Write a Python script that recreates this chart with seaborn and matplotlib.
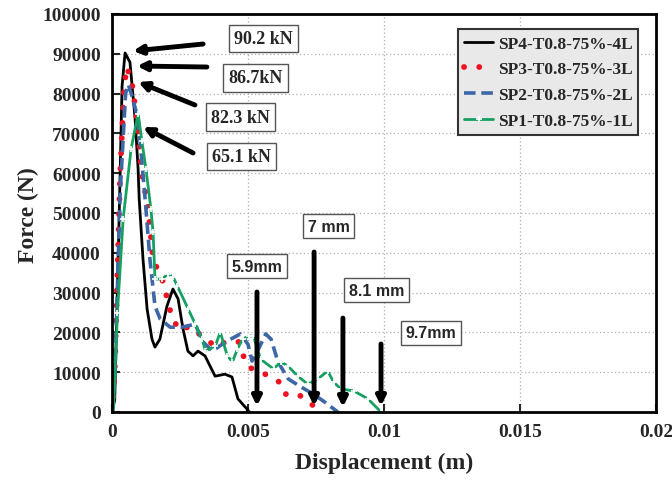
import matplotlib
matplotlib.use("Agg")
import matplotlib.pyplot as plt
import seaborn as sns
import pandas as pd

# ---------------- data ----------------
sp4_x = [0.0, 0.0001, 0.00025, 0.00037, 0.00048, 0.00066, 0.00085, 0.00096, 0.00100, 0.00114,
         0.00129, 0.00147, 0.00158, 0.00176, 0.00202, 0.00224, 0.00243, 0.00261, 0.00279, 0.00298,
         0.00316, 0.00342, 0.00379, 0.00415, 0.00441, 0.00463, 0.00489, 0.00500, 0.00497, 0.00507]
sp4_y = [0, 3000, 45000, 81900, 90200, 87900, 73600, 61000, 53500, 38400,
         25900, 18300, 16300, 18300, 26600, 30900, 28400, 20900, 15300, 14100,
         15300, 14100, 9000, 9500, 8800, 3300, 1300, 500, 200, 0]

sp3_x = [0.0, 0.0001, 0.0003, 0.00045, 0.00055, 0.00075, 0.00096, 0.00107, 0.00133, 0.00151,
         0.00188, 0.00210, 0.00225, 0.00255, 0.00284, 0.00336, 0.00384, 0.00421, 0.00465, 0.00483,
         0.00500, 0.00550, 0.00616, 0.00635, 0.00686, 0.00716, 0.00745]
sp3_y = [0, 10000, 60000, 82000, 86700, 81900, 71100, 61000, 51000, 38400,
         32700, 26400, 22900, 20400, 21600, 18800, 16300, 17800, 17600, 14100,
         11300, 10000, 7500, 4500, 4500, 2500, 1500]

sp2_x = [0.0, 0.0001, 0.0003, 0.0005, 0.0006, 0.00075, 0.00096, 0.0012, 0.0014, 0.00158,
         0.00177, 0.00214, 0.00258, 0.00306, 0.00332, 0.00369, 0.00417, 0.00472, 0.00500, 0.00515,
         0.00540, 0.00565, 0.00585, 0.00610, 0.00648, 0.00690, 0.00740, 0.00782, 0.00830]
sp2_y = [0, 8000, 55000, 80000, 82300, 79000, 73600, 55000, 38000, 26600,
         23400, 21300, 21300, 22100, 17800, 15300, 17600, 19600, 17000, 12800,
         16000, 19600, 18300, 12600, 8300, 6500, 4500, 2500, 0]

sp1_x = [0.00005, 0.0002, 0.00041, 0.0007, 0.00096, 0.00110, 0.00125, 0.00143, 0.00151, 0.00158,
         0.00184, 0.00206, 0.00225, 0.00240, 0.00280, 0.00306, 0.00332, 0.00343, 0.00380, 0.00398,
         0.00424, 0.00443, 0.00461, 0.00480, 0.00502, 0.00520, 0.00546, 0.00594, 0.00620, 0.00646,
         0.00683, 0.00720, 0.00757, 0.00793, 0.00815, 0.00841, 0.00889, 0.00941, 0.00989]
sp1_y = [0, 25000, 48500, 66000, 75000, 68000, 61000, 51000, 45200, 33400,
         33400, 34700, 33900, 31700, 25900, 22100, 18300, 15300, 16600, 20100,
         14100, 12600, 15800, 18300, 19100, 19100, 13300, 10800, 12600, 11600,
         9000, 7000, 8300, 10300, 7500, 5800, 5300, 3300, 0]

series_names = ["SP4-T0.8-75%-4L", "SP3-T0.8-75%-3L", "SP2-T0.8-75%-2L", "SP1-T0.8-75%-1L"]

peak_labels = ["90.2 kN", "86.7kN", "82.3 kN", "65.1 kN"]
disp_labels = ["5.9mm", "7 mm", "8.1 mm", "9.7mm"]

x_ticks = [0, 0.005, 0.01, 0.015, 0.02]
x_tick_labels = ["0", "0.005", "0.01", "0.015", "0.02"]
y_ticks = [0, 10000, 20000, 30000, 40000, 50000, 60000, 70000, 80000, 90000, 100000]
y_tick_labels = [str(v) for v in y_ticks]

# ---------------- style ----------------
sns.set_style("ticks")
plt.rcParams["font.family"] = ["Liberation Serif", "DejaVu Serif"]
plt.rcParams["font.weight"] = "bold"

fig = plt.figure(figsize=(6.72, 4.81), dpi=100)
ax = fig.add_axes([112 / 672, 1 - 413 / 481, (656 - 112) / 672, (413 - 15) / 481])

styles = [
    dict(color="black", lw=2.0, ls="-"),
    dict(color="#ee1122", lw=4.2, ls=(0, (0.01, 2.6)), dash_capstyle="round"),
    dict(color="#3d67a6", lw=2.6, ls=(0, (3.2, 1.6))),
    dict(color="#16a062", lw=2.0, ls="-", marker="+", markersize=4, markeredgewidth=1.2),
]
xs = [sp4_x, sp3_x, sp2_x, sp1_x]
ys = [sp4_y, sp3_y, sp2_y, sp1_y]
for name, x, y, st in zip(series_names, xs, ys, styles):
    df = pd.DataFrame({"Displacement": x, "Force": y})
    sns.lineplot(data=df, x="Displacement", y="Force", ax=ax, sort=False,
                 estimator=None, label=name, **st)

ax.set_xlim(0, 0.02)
ax.set_ylim(0, 100000)
ax.set_xticks(x_ticks)
ax.set_xticklabels(x_tick_labels, fontsize=14, fontweight="bold")
ax.set_yticks(y_ticks)
ax.set_yticklabels(y_tick_labels, fontsize=14, fontweight="bold")
ax.tick_params(direction="in", length=6, width=1.5, pad=8)
ax.grid(True, linestyle=(0, (1, 2)), color="#b0b0b0", lw=0.9)
for sp in ax.spines.values():
    sp.set_visible(True)
    sp.set_linewidth(2.0)
    sp.set_color("black")

ax.set_xlabel("Displacement (m)", fontsize=17, fontweight="bold")
ax.set_ylabel("Force (N)", fontsize=17, fontweight="bold")
ax.xaxis.set_label_coords(0.5, -0.1)
ax.yaxis.set_label_coords(-0.135, 0.497)

leg = ax.legend(loc="upper right", bbox_to_anchor=(0.974, 0.97), fontsize=12.5,
                frameon=True, fancybox=False, handlelength=1.7, handletextpad=0.25,
                borderpad=0.35, labelspacing=0.55, borderaxespad=0.2)
leg.get_frame().set_facecolor("#e9e9e9")
leg.get_frame().set_edgecolor("#333333")
leg.get_frame().set_linewidth(1.5)
leg.get_frame().set_alpha(1)
for t in leg.get_texts():
    t.set_fontweight("bold")

# ---------------- annotations ----------------
arrow_kw = dict(arrowstyle="-|>", lw=3.5, color="black", mutation_scale=13,
                shrinkA=0, shrinkB=0)
box_kw = dict(boxstyle="square,pad=0.3", fc="white", ec="#555555", lw=1.0)

peak_arrows = [((0.00335, 92460), (0.00077, 90700)),
               ((0.00349, 86680), (0.00092, 86930)),
               ((0.00305, 77140), (0.00096, 82910)),
               ((0.00298, 65080), (0.00114, 71600))]
peak_text_pos = [(0.00557, 93840), (0.00528, 83920), (0.00472, 74120), (0.00476, 64200)]
for (tail, head), lab, pos in zip(peak_arrows, peak_labels, peak_text_pos):
    ax.annotate("", xy=head, xytext=tail, arrowprops=arrow_kw)
    ax.text(pos[0], pos[1], lab, ha="center", va="center", fontsize=13,
            fontweight="bold", bbox=box_kw, zorder=5)

disp_arrows = [(0.00533, 30150, 1500), (0.00743, 40200, 1500),
               (0.00849, 23600, 1250), (0.00989, 17100, 1500)]
disp_text_pos = [(0.00533, 36680), (0.00796, 46730), (0.00972, 30650), (0.01173, 19850)]
for (xa, y0, y1), lab, pos in zip(disp_arrows, disp_labels, disp_text_pos):
    ax.annotate("", xy=(xa, y1), xytext=(xa, y0), arrowprops=arrow_kw)
    ax.text(pos[0], pos[1], lab, ha="center", va="center", fontsize=11.5,
            fontweight="bold", family=["Liberation Sans", "DejaVu Sans"],
            bbox=box_kw, zorder=5)

fig.savefig("out.png", dpi=100)
